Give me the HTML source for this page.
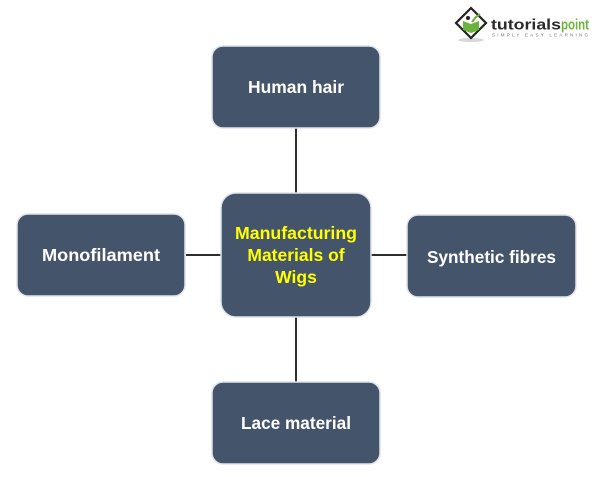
<!DOCTYPE html>
<html>
<head>
<meta charset="utf-8">
<style>
  html,body{margin:0;padding:0;background:#fff;}
  svg{display:block;}
  text{font-family:"Liberation Sans", Arial, sans-serif;}
</style>
</head>
<body>
<svg width="600" height="477" viewBox="0 0 600 477" xmlns="http://www.w3.org/2000/svg">
  <rect width="600" height="477" fill="#ffffff"/>

  <!-- connectors -->
  <g stroke="#2e2e2e" stroke-width="2">
    <line x1="296" y1="128" x2="296" y2="193"/>
    <line x1="296" y1="317" x2="296" y2="382"/>
    <line x1="186" y1="255" x2="221" y2="255"/>
    <line x1="371" y1="255" x2="407" y2="255"/>
  </g>

  <!-- boxes -->
  <g fill="#44546a" stroke="#dde3ec" stroke-width="1.5">
    <rect x="212" y="46" width="168" height="82" rx="11"/>
    <rect x="221" y="193" width="150" height="124" rx="15"/>
    <rect x="17" y="214" width="168" height="82" rx="11"/>
    <rect x="407" y="215" width="169" height="82" rx="11"/>
    <rect x="212" y="382" width="168" height="82" rx="11"/>
  </g>

  <!-- labels -->
  <g fill="#ffffff" font-weight="bold" font-size="17.5" text-anchor="middle">
    <text x="296" y="93" textLength="96" lengthAdjust="spacingAndGlyphs">Human hair</text>
    <text x="101" y="261" textLength="118" lengthAdjust="spacingAndGlyphs">Monofilament</text>
    <text x="491.5" y="263" textLength="129" lengthAdjust="spacingAndGlyphs">Synthetic fibres</text>
    <text x="296" y="429" textLength="110" lengthAdjust="spacingAndGlyphs">Lace material</text>
  </g>
  <g fill="#ffff00" font-weight="bold" font-size="17.5" text-anchor="middle">
    <text x="296" y="239" textLength="122" lengthAdjust="spacingAndGlyphs">Manufacturing</text>
    <text x="296" y="261">Materials of</text>
    <text x="296" y="283">Wigs</text>
  </g>

  <!-- logo -->
  <g>
    <ellipse cx="471" cy="40" rx="13" ry="2" fill="#d8d8d8"/>
    <polygon points="471,8 486,23 471,38 456,23" fill="#ffffff" stroke="#222" stroke-width="2.2"/>
    <path d="M463,21 L471,24 L479,21 L479,30 L471,33 L463,30 Z" fill="#6cb33e"/>
    <circle cx="468" cy="18" r="2" fill="#222"/>
    <path d="M472,22 L475,18 L480,14" stroke="#6cb33e" stroke-width="2" fill="none"/>
    <text x="491" y="29.5" font-size="15" font-weight="bold" fill="#2b2b2b" textLength="70" lengthAdjust="spacingAndGlyphs">tutorials</text>
    <text x="561" y="29.5" font-size="15" font-weight="bold" fill="#6cb33e" textLength="28" lengthAdjust="spacingAndGlyphs">point</text>
    <text x="492" y="36.5" font-size="4.5" fill="#777" textLength="96" lengthAdjust="spacing">SIMPLY EASY LEARNING</text>
  </g>
</svg>
</body>
</html>
